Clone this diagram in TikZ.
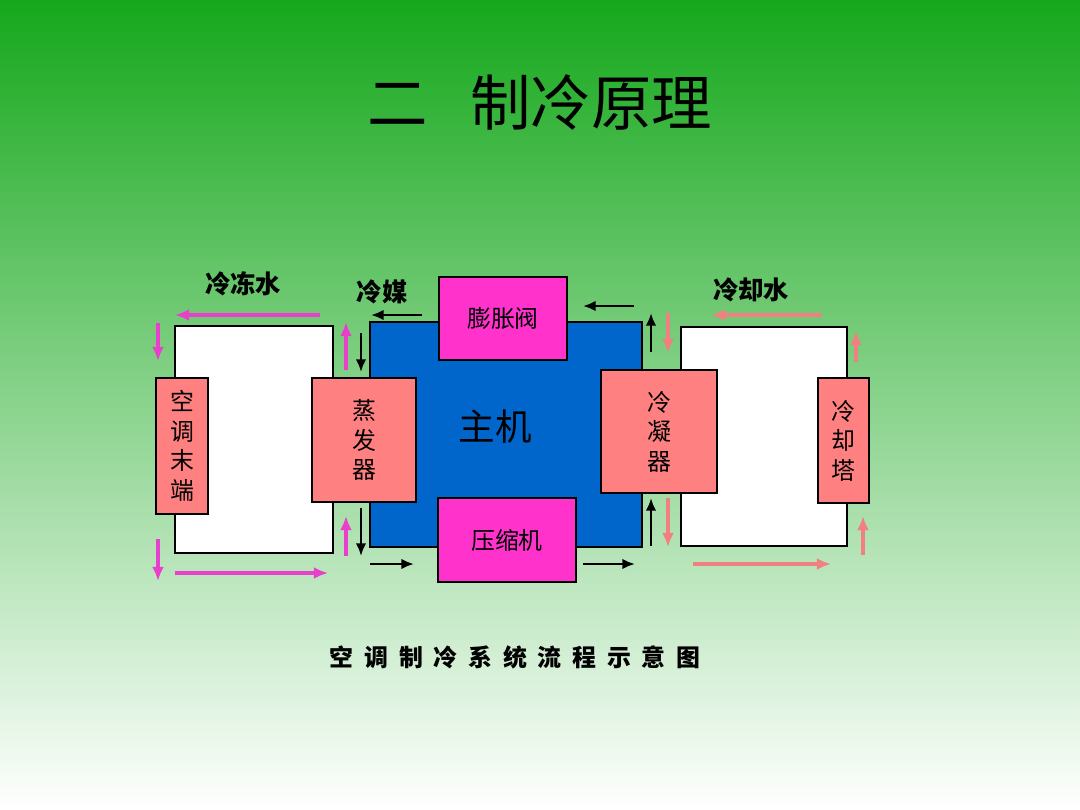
\documentclass[tikz,border=0pt]{standalone}
\usepackage{fontspec}
\setmainfont{Noto Sans CJK SC}
\usetikzlibrary{shapes,arrows.meta}
\definecolor{bggreen}{RGB}{22,168,28}
\definecolor{bgmid}{RGB}{165,208,165}
\definecolor{salmon}{RGB}{255,128,128}
\definecolor{mymag}{RGB}{255,51,204}
\definecolor{myblue}{RGB}{0,102,204}
\definecolor{pinkflow}{RGB}{232,64,204}
\definecolor{coolflow}{RGB}{242,128,128}
\tikzstyle{box}=[draw=black,line width=1.6pt,rectangle,inner sep=0pt]
\tikzstyle{pinkbox}=[box,fill=salmon,font=\fontsize{17}{21}\selectfont,align=center]
\tikzstyle{magbox}=[box,fill=mymag,font=\fontsize{17}{21}\selectfont]
\tikzstyle{whitebox}=[box,fill=white]
\tikzstyle{flowlabel}=[font=\fontsize{18}{18}\selectfont\bfseries]
\tikzstyle{pinkarrow}=[pinkflow,line width=2.4pt,-{Latex[length=10pt,width=8.5pt]}]
\tikzstyle{coolarrow}=[coolflow,line width=2.4pt,-{Latex[length=10pt,width=8.5pt]}]
\tikzstyle{blackarrow}=[black,line width=2pt,-{Latex[length=9pt,width=7.5pt]}]

\begin{document}
\begin{tikzpicture}[x=0.025cm,y=-0.025cm]
	\useasboundingbox (0,0) rectangle (1080,810);
	\shade[top color=bggreen,middle color=bgmid,bottom color=white] (0,0) rectangle (1080,810);

	\node (title) at (540,103) {\fontsize{43}{43}\selectfont 二\hspace{0.7em}制冷原理};

	% water loops
	\node[whitebox,minimum width=3.95cm,minimum height=5.675cm] (leftloop) at (254,439.5) {};
	\node[whitebox,minimum width=4.15cm,minimum height=5.475cm] (rightloop) at (764,436.5) {};

	% chiller
	\node[box,fill=myblue,minimum width=6.8cm,minimum height=5.625cm] (chiller) at (506,434.5) {};
	\node at (495,427) {\fontsize{26}{26}\selectfont 主机};

	\node[pinkbox,minimum width=1.3cm,minimum height=3.4cm] (terminal) at (182,446) {空\\调\\末\\端};
	\node[pinkbox,minimum width=2.6cm,minimum height=3.1cm] (evap) at (364,440) {蒸\\发\\器};
	\node[pinkbox,minimum width=2.9cm,minimum height=3.075cm] (cond) at (659,431.5) {冷\\凝\\器};
	\node[pinkbox,minimum width=1.275cm,minimum height=3.125cm] (tower) at (843.5,440.5) {冷\\却\\塔};
	\node[magbox,minimum width=3.2cm,minimum height=2.075cm] (valve) at (503,318.5) {膨胀阀};
	\node[magbox,minimum width=3.45cm,minimum height=2.1cm] (comp) at (507,540) {压缩机};

	\node[flowlabel] (chw) at (243,284) {冷冻水};
	\node[flowlabel] (ref) at (382,292) {冷媒};
	\node[flowlabel] (cw) at (751,290) {冷却水};

	\foreach \xa/\ya/\xb/\yb in {320/315/175/315,158/323/158/361,158/539/158/581,175/573/328/573,346/370/346/322,346/556/346/516}
		\draw[pinkarrow] (\xa,\ya) -- (\xb,\yb);
	\foreach \xa/\ya/\xb/\yb in {422/315/371/315,361/333/361/372,361/508/361/556,370/564/414/564,634/306/583/306,651/352/651/313,651/546/651/498,583/564/635/564}
		\draw[blackarrow] (\xa,\ya) -- (\xb,\yb);
	\foreach \xa/\ya/\xb/\yb in {668/313/668/353,668/498/668/547,822/315/711/315,856/362/856/331,863/555/863/516,693/564/831/564}
		\draw[coolarrow] (\xa,\ya) -- (\xb,\yb);

	\node (caption) at (515,657) {\fontsize{17}{17}\selectfont\bfseries\spaceskip=0.45em 空 调 制 冷 系 统 流 程 示 意 图};
\end{tikzpicture}
\end{document}
